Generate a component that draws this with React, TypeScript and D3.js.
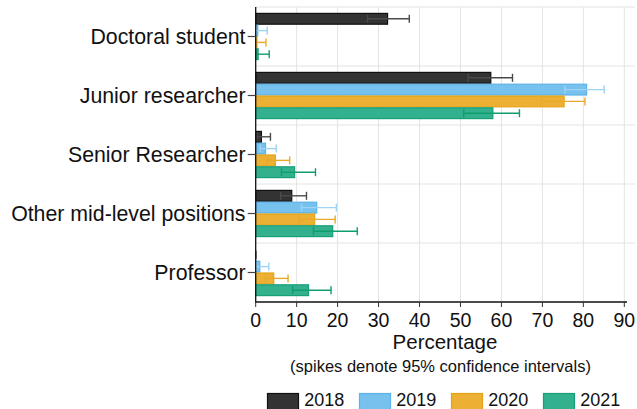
import React from "react";
import * as d3 from "d3";

const categories = [
  "Doctoral student",
  "Junior researcher",
  "Senior Researcher",
  "Other mid-level positions",
  "Professor",
];
const years = ["2018", "2019", "2020", "2021"];

// values per year, in category order
const values2018 = [32.2, 57.4, 1.4, 8.8, 0];
const values2019 = [0.5, 80.8, 2.4, 14.9, 1.0];
const values2020 = [0.3, 75.3, 4.8, 14.4, 4.4];
const values2021 = [0.6, 57.9, 9.5, 18.8, 12.9];

const lo2018 = [27.3, 51.9, 0.4, 6.1, 0];
const hi2018 = [37.5, 62.7, 3.6, 12.4, 0];
const lo2019 = [0, 75.5, 1.1, 11.2, 0.2];
const hi2019 = [2.8, 85.1, 5.0, 19.7, 3.2];
const lo2020 = [0, 69.8, 2.8, 10.6, 2.4];
const hi2020 = [2.5, 80.4, 8.3, 19.4, 7.9];
const lo2021 = [0, 50.8, 6.3, 14.1, 9.0];
const hi2021 = [3.3, 64.4, 14.6, 24.8, 18.4];

const xTicks = [0, 10, 20, 30, 40, 50, 60, 70, 80, 90];

const series = [
  { year: "2018", v: values2018, lo: lo2018, hi: hi2018, fill: "#333333", stroke: "#111111", ci: "#4a4a4a" },
  { year: "2019", v: values2019, lo: lo2019, hi: hi2019, fill: "#77C1EE", stroke: "#5DB3E8", ci: "#9DD3F3" },
  { year: "2020", v: values2020, lo: lo2020, hi: hi2020, fill: "#EBB034", stroke: "#E6A316", ci: "#EAA928" },
  { year: "2021", v: values2021, lo: lo2021, hi: hi2021, fill: "#33B08E", stroke: "#17A078", ci: "#0E9E6E" },
];

const FONT = "'Liberation Sans', Arial, Helvetica, sans-serif";

export default function App() {
  const W = 637;
  const H = 409;
  const left = 255.7;
  const right = 635;
  const top = 7;
  const bottom = 302;

  const x = d3.scaleLinear().domain([0, 90]).range([left, 624.3]);
  const y0 = d3.scaleBand<string>().domain(categories).range([top, bottom]).paddingInner(0).paddingOuter(0);
  const y1 = d3.scaleBand<string>().domain(years).range([0, y0.bandwidth()]).paddingInner(0).paddingOuter(0.5);

  const bandEdges = categories.map((c) => y0(c)!);

  return (
    <svg
      width={W}
      height={H}
      style={{ position: "absolute", left: 0, top: 0, background: "#fff" }}
      fontFamily={FONT}
    >
      {/* grid */}
      {xTicks.slice(1).map((t) => (
        <line key={"vg" + t} x1={x(t)} x2={x(t)} y1={top} y2={bottom} stroke="#e3e3e3" strokeWidth={1} />
      ))}
      {bandEdges.map((e, i) => (
        <line key={"hg" + i} x1={left} x2={right} y1={e} y2={e} stroke="#e3e3e3" strokeWidth={1.2} />
      ))}

      {/* bars */}
      {series.map((s) =>
        categories.map((c, i) => {
          const yy = y0(c)! + y1(s.year)!;
          const h = y1.bandwidth();
          const w = x(s.v[i]) - x(0);
          return (
            <rect
              key={s.year + c}
              x={x(0)}
              y={yy + 0.5}
              width={Math.max(w, 0)}
              height={h - 1}
              fill={s.fill}
              stroke={s.stroke}
              strokeWidth={1.2}
            />
          );
        })
      )}

      {/* confidence intervals */}
      {series.map((s) =>
        categories.map((c, i) => {
          const cy = y0(c)! + y1(s.year)! + y1.bandwidth() / 2;
          const x1 = x(s.lo[i]);
          const x2 = x(s.hi[i]);
          return (
            <g key={"ci" + s.year + c} stroke={s.ci} strokeWidth={1.4}>
              <line x1={x1} x2={x2} y1={cy} y2={cy} />
              <line x1={x1} x2={x1} y1={cy - 4} y2={cy + 4} />
              <line x1={x2} x2={x2} y1={cy - 4} y2={cy + 4} />
            </g>
          );
        })
      )}

      {/* axes */}
      <line x1={left} x2={left} y1={top} y2={bottom} stroke="#111" strokeWidth={1.3} />
      <line x1={left - 0.6} x2={627} y1={bottom} y2={bottom} stroke="#111" strokeWidth={1.3} />
      {xTicks.map((t) => (
        <g key={"xt" + t}>
          <line x1={x(t)} x2={x(t)} y1={bottom} y2={bottom + 5} stroke="#333" strokeWidth={1} />
          <text x={x(t)} y={327} fontSize={19.5} textAnchor="middle" fill="#111">
            {t}
          </text>
        </g>
      ))}
      {categories.map((c) => {
        const cy = y0(c)! + y0.bandwidth() / 2;
        return (
          <g key={"yt" + c}>
            <line x1={left - 8} x2={left} y1={cy} y2={cy} stroke="#444" strokeWidth={1.2} />
            <text x={245.5} y={cy} dy="0.36em" fontSize={21.3} textAnchor="end" fill="#111">
              {c}
            </text>
          </g>
        );
      })}

      <text x={445} y={349} fontSize={20.5} textAnchor="middle" fill="#111">
        Percentage
      </text>
      <text x={440.5} y={372} fontSize={16.5} textAnchor="middle" fill="#111">
        (spikes denote 95% confidence intervals)
      </text>

      {/* legend */}
      {series.map((s, i) => {
        const lx = [267.5, 359.5, 451.5, 543.5][i];
        return (
          <g key={"lg" + s.year}>
            <rect x={lx} y={393.5} width={31} height={20} fill={s.fill} stroke={s.stroke} strokeWidth={1.2} />
            <text x={lx + 36.8} y={406} fontSize={18} fill="#111">
              {s.year}
            </text>
          </g>
        );
      })}
    </svg>
  );
}
